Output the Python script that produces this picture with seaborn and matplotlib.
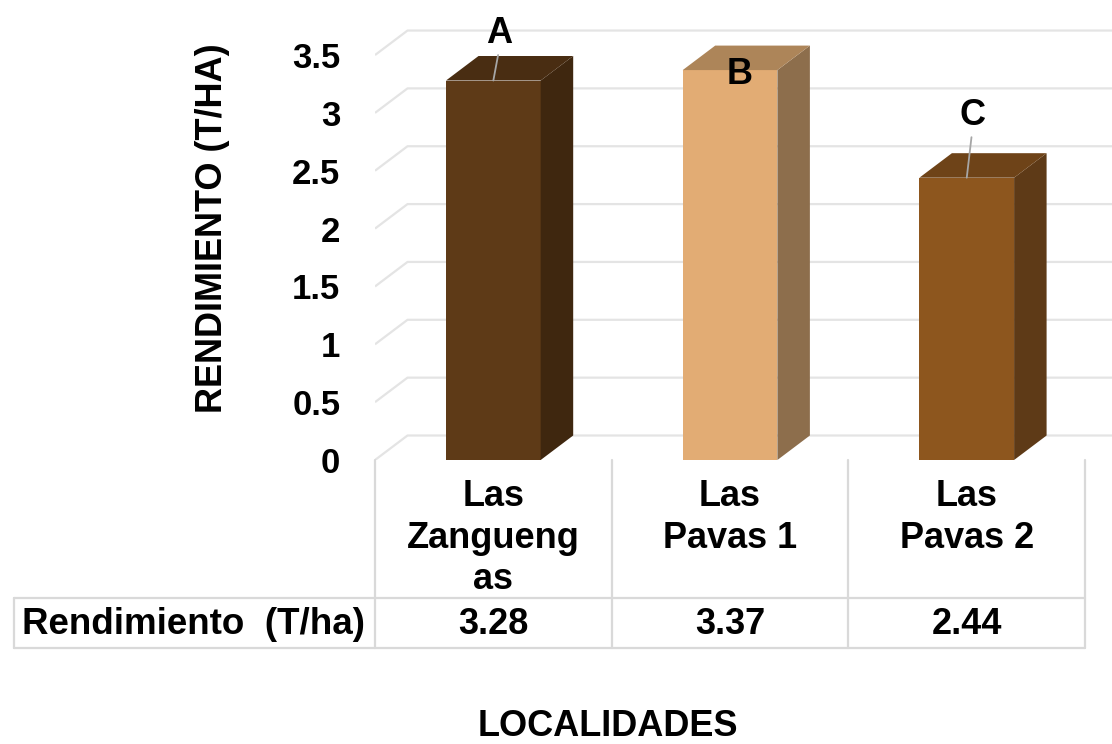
import numpy as np
import pandas as pd
import seaborn as sns
import matplotlib.pyplot as plt
from matplotlib.patches import Polygon
from matplotlib.lines import Line2D
from matplotlib.transforms import blended_transform_factory

# --- data -------------------------------------------------------------
categories = ["Las Zanguengas", "Las Pavas 1", "Las Pavas 2"]
category_labels = ["Las\nZangueng\nas", "Las\nPavas 1", "Las\nPavas 2"]
yields = [3.28, 3.37, 2.44]
value_labels = ["3.28", "3.37", "2.44"]
letters = ["A", "B", "C"]
y_ticks = [0, 0.5, 1, 1.5, 2, 2.5, 3, 3.5]
y_tick_labels = ["0", "0.5", "1", "1.5", "2", "2.5", "3", "3.5"]

# --- styling ----------------------------------------------------------
front_colors = ["#5E3A17", "#E2AC74", "#8D561E"]
side_colors = ["#3F270F", "#8D6E4C", "#5E3A17"]
top_colors = ["#492D12", "#AD8559", "#6E4318"]
grid_color = "#E4E4E4"
table_color = "#D9D9D9"
letter_offsets = [0.41, -0.04, 0.54]      # letter height relative to bar top
leader_lines = [True, False, True]

W, H = 1112, 744
sns.set_theme(style="white")
plt.rcParams["font.family"] = ["Liberation Sans", "DejaVu Sans"]
plt.rcParams["font.weight"] = "bold"
plt.rcParams["text.color"] = "black"
plt.rcParams["axes.labelcolor"] = "black"
plt.rcParams["xtick.color"] = "black"
plt.rcParams["ytick.color"] = "black"

fig = plt.figure(figsize=(W / 100, H / 100), dpi=100)
ax = fig.add_axes([375 / W, (H - 460) / H, (W - 375) / W, 460 / H])

df = pd.DataFrame({"Localidad": categories, "Rendimiento": yields})
sns.barplot(data=df, x="Localidad", y="Rendimiento", hue="Localidad",
            palette=front_colors, saturation=1, width=0.4, legend=False,
            ax=ax, zorder=3, edgecolor="none")

xmax = -0.5 + (W - 375) / 236.7
ymax = 460 / 115.7
ax.set_xlim(-0.5, xmax)
ax.set_ylim(0, ymax)

# depth of the pseudo-3D projection in data units
dx = 32.5 / 236.7
dy = 24.5 / 115.7

# back wall gridlines with the diagonal on the side wall
for v in y_ticks:
    ax.plot([-0.5, -0.5 + dx, xmax], [v, v + dy, v + dy],
            color=grid_color, lw=1.6, zorder=1, solid_capstyle="butt")

# side and top faces of every column
for i, p in enumerate(ax.patches):
    x0, w, h = p.get_x(), p.get_width(), p.get_height()
    side = Polygon([(x0 + w, 0), (x0 + w + dx, dy), (x0 + w + dx, h + dy), (x0 + w, h)],
                   closed=True, facecolor=side_colors[i], edgecolor="none", zorder=3)
    top = Polygon([(x0, h), (x0 + dx, h + dy), (x0 + w + dx, h + dy), (x0 + w, h)],
                  closed=True, facecolor=top_colors[i], edgecolor="none", zorder=3)
    ax.add_patch(side)
    ax.add_patch(top)

# significance letters
for i, (v, letter) in enumerate(zip(yields, letters)):
    cx = i
    ly = v + letter_offsets[i]
    if leader_lines[i]:
        ax.plot([cx, cx + 0.02], [v, ly - 0.19], color="#A6A6A6", lw=1.3, zorder=4)
        ax.text(cx + 0.025, ly, letter, ha="center", va="center",
                fontsize=26, fontweight="bold", color="black", zorder=5)
    else:
        ax.text(cx + 0.04, ly, letter, ha="center", va="center",
                fontsize=26, fontweight="bold", color="black", zorder=5)

# axes styling
for s in ax.spines.values():
    s.set_visible(False)
ax.set_yticks(y_ticks, labels=y_tick_labels)
ax.tick_params(axis="y", length=0, pad=25, labelsize=25, labelcolor="black")
for t in ax.get_yticklabels():
    t.set_fontweight("bold")
ax.set_xticks(range(len(categories)), labels=category_labels)
ax.tick_params(axis="x", length=0, pad=14, labelsize=26, labelcolor="black")
for t in ax.get_xticklabels():
    t.set_fontweight("bold")
    t.set_linespacing(1.24)

ax.set_ylabel("RENDIMIENTO (T/HA)", fontsize=26, fontweight="bold", color="black")
ax.yaxis.label.set_va("center")
ax.yaxis.set_label_coords((213 - 375) / (W - 375), (460 - 228) / 460)
ax.set_xlabel("LOCALIDADES", fontsize=26, fontweight="bold", color="black")
ax.xaxis.label.set_va("center")
ax.xaxis.set_label_coords((608 - 375) / (W - 375), -(726 - 460) / 460)

# data table under the columns
tr = blended_transform_factory(ax.transData, fig.transFigure)
fy = lambda py: 1 - py / H
edges = [-0.5, 0.5, 1.5, 2.5]
for e in edges:
    fig.add_artist(Line2D([e, e], [fy(460), fy(648)], transform=tr,
                          color=table_color, lw=1.6))
fig.add_artist(Line2D([14 / W, 14 / W], [fy(598), fy(648)], color=table_color, lw=1.6))
for py in (598, 648):
    fig.add_artist(Line2D([14 / W, 375 / W], [fy(py), fy(py)], color=table_color, lw=1.6))
    fig.add_artist(Line2D([-0.5, 2.5], [fy(py), fy(py)], transform=tr,
                          color=table_color, lw=1.6))
fig.text(194 / W, fy(625), "Rendimiento  (T/ha)", ha="center", va="center",
         fontsize=26.5, fontweight="bold", color="black")
for i, lab in enumerate(value_labels):
    fig.text(i, fy(625), lab, transform=tr, ha="center", va="center",
             fontsize=26, fontweight="bold", color="black")

fig.savefig("out.png", dpi=100)
